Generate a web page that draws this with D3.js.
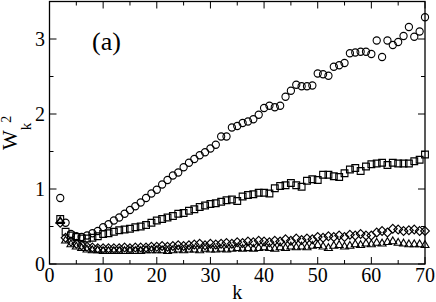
<!DOCTYPE html>
<html>
<head>
<meta charset="utf-8">
<script src="https://cdn.jsdelivr.net/npm/d3@7"></script>
</head>
<body style="margin:0">
<svg id="chart" width="436" height="302"></svg>
<script>
// k runs 2..70
var kStart = 2;

var circles = [0.88,0.55,0.40,0.37,0.36,0.38,0.41,0.44,0.49,0.53,
  0.58,0.62,0.67,0.72,0.77,0.82,0.88,0.94,0.99,1.06,
  1.12,1.18,1.22,1.29,1.35,1.40,1.45,1.49,1.54,1.59,
  1.70,1.70,1.82,1.84,1.88,1.90,1.93,1.99,2.08,2.11,
  2.09,2.11,2.23,2.31,2.39,2.37,2.37,2.38,2.54,2.53,
  2.51,2.63,2.65,2.68,2.81,2.82,2.83,2.83,2.80,2.98,
  2.76,2.98,2.92,2.96,3.04,3.16,3.03,3.10,3.29];

var squares = [0.60,0.43,0.38,0.36,0.34,0.34,0.35,0.37,0.40,0.41,
  0.43,0.45,0.46,0.47,0.49,0.50,0.52,0.55,0.58,0.60,
  0.62,0.64,0.67,0.68,0.71,0.73,0.76,0.78,0.80,0.81,
  0.83,0.85,0.86,0.84,0.90,0.92,0.93,0.95,0.95,0.94,
  1.01,1.04,1.05,1.08,1.05,1.03,1.11,1.13,1.12,1.19,
  1.19,1.17,1.16,1.21,1.26,1.28,1.24,1.30,1.33,1.34,
  1.35,1.32,1.35,1.34,1.34,1.34,1.37,1.39,1.46];

var diamonds = [0.55,0.35,0.30,0.27,0.25,0.23,0.22,0.21,0.21,0.21,
  0.21,0.21,0.22,0.21,0.22,0.22,0.22,0.23,0.23,0.24,
  0.23,0.24,0.25,0.24,0.25,0.26,0.27,0.25,0.27,0.26,
  0.27,0.28,0.27,0.29,0.28,0.30,0.29,0.31,0.30,0.29,
  0.31,0.30,0.33,0.31,0.34,0.32,0.34,0.33,0.36,0.35,
  0.37,0.36,0.38,0.36,0.39,0.38,0.40,0.38,0.38,0.42,
  0.44,0.42,0.47,0.46,0.44,0.45,0.46,0.44,0.44];

var triangles = [0.58,0.32,0.27,0.24,0.22,0.20,0.19,0.19,0.18,0.18,
  0.18,0.18,0.18,0.18,0.18,0.18,0.19,0.19,0.19,0.19,
  0.18,0.19,0.20,0.19,0.20,0.20,0.19,0.21,0.20,0.20,
  0.21,0.20,0.21,0.22,0.21,0.22,0.21,0.22,0.23,0.22,
  0.21,0.23,0.22,0.24,0.23,0.24,0.23,0.25,0.26,0.24,
  0.22,0.25,0.26,0.24,0.25,0.27,0.26,0.28,0.27,0.29,
  0.28,0.30,0.31,0.29,0.28,0.27,0.27,0.27,0.26];

var xTicks = [0,10,20,30,40,50,60,70];
var yTicks = [0,1,2,3];

var FONT = "'Liberation Serif', 'Times New Roman', serif";

var svg = d3.select("#chart");

var x = d3.scaleLinear().domain([0,70]).range([49.5,425]);
var y = d3.scaleLinear().domain([0,3.5]).range([264,1.5]);

var x0 = x.range()[0], x1 = x.range()[1], y0 = y.range()[0], y1 = y.range()[1];

// marker shapes
function shape(type){
  if (type == "circle") return "M3.6,0A3.6,3.6 0 1,1 -3.6,0A3.6,3.6 0 1,1 3.6,0Z";
  if (type == "square") return "M-3.4,-3.4H3.4V3.4H-3.4Z";
  if (type == "diamond") return "M0,-4.4L4.4,0L0,4.4L-4.4,0Z";
  return "M0,-3.8L4,3L-4,3Z";
}

var series = [
  {name:"circle", values:circles},
  {name:"square", values:squares},
  {name:"diamond", values:diamonds},
  {name:"triangle", values:triangles}
];

series.forEach(function(s){
  svg.append("g").selectAll("path")
    .data(s.values)
    .enter().append("path")
    .attr("d", shape(s.name))
    .attr("transform", function(d,i){ return "translate(" + x(kStart+i) + "," + y(d) + ")"; })
    .style("fill","none")
    .style("stroke","#000")
    .style("stroke-width",1.1);
});

// ticks, inward on all four sides
var g = svg.append("g").style("stroke","#000").style("stroke-width",1);
d3.range(0,71,5).forEach(function(v){
  var len = (v % 10 == 0) ? 7 : 4;
  g.append("line").attr("x1",x(v)).attr("x2",x(v)).attr("y1",y0).attr("y2",y0-len);
  g.append("line").attr("x1",x(v)).attr("x2",x(v)).attr("y1",y1).attr("y2",y1+len);
});
d3.range(0,3.51,0.5).forEach(function(v){
  var len = (Math.abs(v - Math.round(v)) < 0.01) ? 7 : 4;
  g.append("line").attr("x1",x0).attr("x2",x0+len).attr("y1",y(v)).attr("y2",y(v));
  g.append("line").attr("x1",x1).attr("x2",x1-len).attr("y1",y(v)).attr("y2",y(v));
});

// frame
svg.append("rect")
  .attr("x",x0).attr("y",y1).attr("width",x1-x0).attr("height",y0-y1)
  .style("fill","none").style("stroke","#000").style("stroke-width",1.3);

// texts, each set straight on the svg
xTicks.forEach(function(d){
  svg.append("text")
    .attr("x", x(d)).attr("y", 282)
    .attr("text-anchor","middle")
    .style("font-family",FONT).style("font-size","20px")
    .text(d);
});

yTicks.forEach(function(d){
  svg.append("text")
    .attr("x", 45).attr("y", y(d) + 6.5)
    .attr("text-anchor","end")
    .style("font-family",FONT).style("font-size","20px")
    .text(d);
});

svg.append("text")
  .attr("x", (x0+x1)/2).attr("y", 299)
  .attr("text-anchor","middle")
  .style("font-family",FONT).style("font-size","20px")
  .text("k");

// W_k^2, rotated: subscript drops to the right, superscript rises to the left
var yl = svg.append("text")
  .attr("transform","translate(17,150) rotate(-90)")
  .style("font-family",FONT).style("font-size","21px");
yl.append("tspan").text("W");
yl.append("tspan").attr("dy",14).style("font-size","15px").text("k");
yl.append("tspan").attr("dy",-20).style("font-size","14px").text("2");

svg.append("text")
  .attr("x",92).attr("y",50)
  .style("font-family",FONT).style("font-size","26px")
  .text("(a)");
</script>
</body>
</html>
